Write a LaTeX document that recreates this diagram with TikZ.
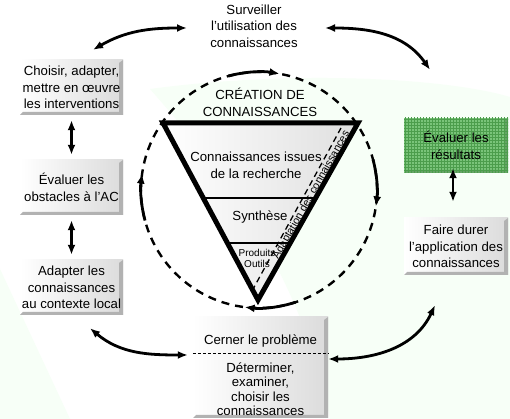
\documentclass[tikz,border=0pt]{standalone}
\usepackage{fontspec}
\setmainfont{Liberation Sans}
\usetikzlibrary{positioning, calc, arrows.meta, patterns}

\begin{document}
\begin{tikzpicture}[x=1pt, y=1pt, >={Latex[length=10pt, width=8pt]}]
    % Define styles
    \tikzstyle{txt} = [font=\fontsize{13.2}{16.5}\selectfont, align=center, inner sep=0pt]
    \tikzstyle{box} = [txt, minimum width=103, minimum height=55, left color=white, right color=gray!28, bevel=gray!60]
    \tikzstyle{greenbox} = [txt, minimum width=104, minimum height=55, fill={rgb,255:red,122;green,196;blue,122}, postaction={pattern=grid, pattern color=green!45!black!70}, bevel=green!40!black!60]
    \tikzstyle{bigarrow} = [line width=2.8pt, <->]
    \tikzstyle{cycledash} = [line width=2.4pt, dash pattern=on 8pt off 6pt]
    \tikzstyle{cyclearrow} = [line width=2.8pt, ->]
    \tikzset{bevel/.style={path picture={
        \fill[#1] (path picture bounding box.north east) -- (path picture bounding box.south east)
            -- (path picture bounding box.south west) -- ([shift={(3,3)}]path picture bounding box.south west)
            -- ([shift={(-4,3)}]path picture bounding box.south east) -- ([shift={(-4,-3)}]path picture bounding box.north east) -- cycle;}}}

    % Background
    \fill[white] (0,0) rectangle (510,419);
    \useasboundingbox (0,0) rectangle (510,419);
    \fill[green!3] (150,330) .. controls (300,350) and (450,340) .. (510,322) -- (510,0) -- (330,0) .. controls (300,150) and (220,250) .. (150,330);
    \fill[green!3] (0,150) -- (70,0) -- (0,0) -- cycle;

    % Outer boxes
    \node[txt] (monitor) at (254,393) {Surveiller\\l’utilisation des\\connaissances};
    \node[box] (choose) at (71.5,331.5) {Choisir, adapter,\\mettre en œuvre\\les interventions};
    \node[box] (obstacles) at (71.5,231.5) {Évaluer les\\obstacles à l’AC};
    \node[box] (adapt) at (71.5,131.5) {Adapter les\\connaissances\\au contexte local};
    \node[greenbox] (evaluate) at (456,273.5) {Évaluer les\\résultats};
    \node[box, minimum width=104, minimum height=57] (sustain) at (456,172.5) {Faire durer\\l’application des\\connaissances};
    \node[box, minimum width=135, minimum height=101] (problem) at (260.5,51.5) {};
    \node[txt] (define) at (260.5,78) {Cerner le problème};
    \node[txt, font=\fontsize{13.2}{14.5}\selectfont] (select) at (260.5,30) {Déterminer,\\examiner,\\choisir les\\connaissances};
    \draw[dash pattern=on 3pt off 2pt] ([yshift=14.5]problem.west) -- ([yshift=14.5]problem.east);

    % Straight arrows
    \draw[bigarrow, shorten <=5pt, shorten >=5pt] (choose) -- (obstacles);
    \draw[bigarrow, shorten <=5pt, shorten >=5pt] (obstacles) -- (adapt);
    \draw[bigarrow, shorten <=-5pt, shorten >=16pt] ([xshift=-3]evaluate.south) -- ([xshift=-3]sustain.north);

    % Curved arrows
    \draw[bigarrow] ([shift={(-67,-2)}]monitor.center) to[out=180, in=30] ([shift={(21.5,10)}]choose.north);
    \draw[bigarrow] ([shift={(71,-2)}]monitor.center) to[out=0, in=125] ([shift={(-26,48)}]evaluate.north);
    \draw[bigarrow] ([shift={(18.5,-13)}]adapt.south) to[out=-40, in=180] ([shift={(-5,12.5)}]problem.west);
    \draw[bigarrow] ([shift={(0,8.5)}]problem.east) to[out=0, in=-115] ([shift={(-21,-30)}]sustain.south);

    % Knowledge creation cycle
    \coordinate (hub) at (259,229);
    \draw[cycledash] (hub) circle[radius=118];
    \draw[cyclearrow] ([shift={(105:118)}]hub) arc[start angle=105, end angle=80, radius=118];
    \draw[cyclearrow] ([shift={(15:118)}]hub) arc[start angle=15, end angle=-8, radius=118];
    \draw[cyclearrow] ([shift={(-72:118)}]hub) arc[start angle=-72, end angle=-97, radius=118];
    \draw[cyclearrow] ([shift={(195:118)}]hub) arc[start angle=195, end angle=172, radius=118];

    % Funnel
    \coordinate (tl) at (163,296);
    \coordinate (tr) at (358,296);
    \coordinate (tb) at (258,119);
    \draw[line width=5pt, line join=miter, left color=white, right color=gray!25] (tl) -- (tr) -- (tb) -- cycle;
    \draw[line width=1.5pt] ($(tl)!0.424!(tb)$) -- ($(tr)!0.424!(tb)$);
    \draw[line width=1.5pt] ($(tl)!0.678!(tb)$) -- ($(tr)!0.678!(tb)$);
    \node[txt] (creation) at (260,316.5) {CRÉATION DE\\CONNAISSANCES};
    \node[txt] (research) at (256,253.5) {Connaissances issues\\de la recherche};
    \node[txt] (synthesis) at (260,202) {Synthèse};
    \node[txt, font=\fontsize{10}{11.5}\selectfont] (tools) at (257,160.5) {Produits\\Outils};

    % Adaptation line
    \coordinate (adstart) at (252,128);
    \coordinate (adend) at (341,291);
    \draw[line width=1.3pt, dash pattern=on 6pt off 4pt] (adstart) -- (adend);
    \node[txt, font=\fontsize{10.7}{12}\selectfont, rotate=60.5] (adaptation) at (311.5,224) {Adaptation des connaissances};
\end{tikzpicture}
\end{document}
